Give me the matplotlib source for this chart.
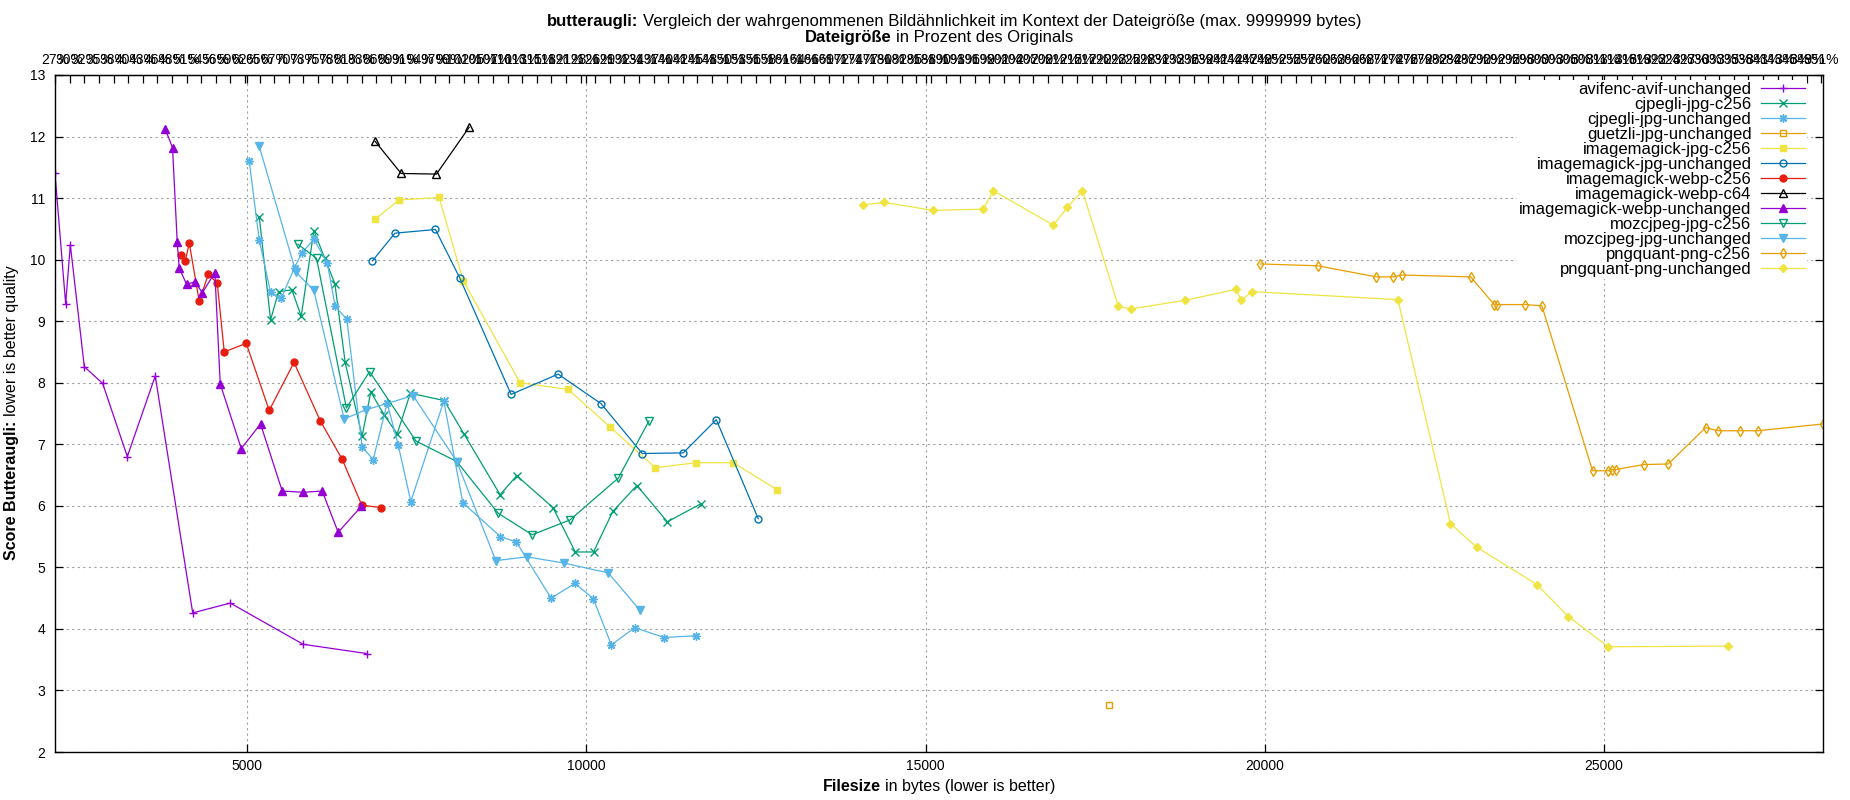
#!/usr/bin/env python3
"""
butteraugli score vs. file size for several encoders (gnuplot look-alike)
"""

import matplotlib
matplotlib.use("Agg")
import matplotlib.pyplot as plt

plt.rcParams['font.family'] = ['Liberation Sans', 'DejaVu Sans']
plt.rcParams['font.size'] = 10

# --- data (filesize in bytes, butteraugli score) ---
avif_x = [2166, 2323, 2392, 2598, 2868, 3232, 3644, 4196, 4750, 5825, 6759]
avif_y = [11.40, 9.28, 10.24, 8.26, 7.99, 6.80, 8.11, 4.26, 4.42, 3.75, 3.60]

cjpegli_c256_x = [5177, 5344, 5462, 5658, 5796, 5982, 6144, 6292, 6444, 6693, 6822, 7022,
                  7210, 7405, 7903, 8200, 8728, 8973, 9509, 9836, 10105, 10390, 10745,
                  11194, 11683]
cjpegli_c256_y = [10.70, 9.02, 9.48, 9.51, 9.08, 10.47, 10.02, 9.61, 8.33, 7.13, 7.85, 7.47,
                  7.17, 7.83, 7.71, 7.16, 6.18, 6.49, 5.97, 5.25, 5.25, 5.91, 6.33,
                  5.74, 6.03]

cjpegli_unch_x = [5029, 5177, 5344, 5501, 5697, 5806, 5982, 6179, 6297, 6469, 6693, 6857,
                  7063, 7225, 7412, 7898, 8178, 8733, 8969, 9479, 9833, 10103, 10368,
                  10712, 11149, 11621]
cjpegli_unch_y = [11.60, 10.32, 9.47, 9.37, 9.87, 10.11, 10.33, 9.95, 9.24, 9.03, 6.96, 6.75,
                  7.67, 6.99, 6.07, 7.70, 6.05, 5.50, 5.41, 4.50, 4.74, 4.49, 3.74,
                  4.02, 3.86, 3.89]

guetzli_x = [17703]
guetzli_y = [2.76]

im_jpg_c256_x = [6887, 7240, 7829, 8183, 9023, 9733, 10350, 11015, 11618, 12166, 12814]
im_jpg_c256_y = [10.66, 10.97, 11.01, 9.66, 8.00, 7.89, 7.28, 6.62, 6.70, 6.70, 6.26]

im_jpg_unch_x = [6845, 7178, 7775, 8134, 8890, 9583, 10216, 10824, 11428, 11915, 12534]
im_jpg_unch_y = [9.98, 10.43, 10.49, 9.70, 7.81, 8.14, 7.66, 6.85, 6.86, 7.40, 5.79]

im_webp_c256_x = [4018, 4086, 4145, 4293, 4425, 4558, 4661, 4985, 5324, 5690, 6077, 6398,
                  6690, 6979]
im_webp_c256_y = [10.07, 9.97, 10.27, 9.32, 9.76, 9.62, 8.50, 8.64, 7.55, 8.33, 7.38, 6.76,
                  6.01, 5.97]

im_webp_c64_x = [6887, 7269, 7790, 8271]
im_webp_c64_y = [11.92, 11.40, 11.39, 12.15]

im_webp_unch_x = [3791, 3899, 3968, 3998, 4106, 4234, 4337, 4523, 4602, 4912, 5196, 5516,
                  5825, 6105, 6341, 6682]
im_webp_unch_y = [12.12, 11.82, 10.28, 9.86, 9.60, 9.64, 9.46, 9.79, 7.98, 6.93, 7.33, 6.24,
                  6.22, 6.24, 5.57, 5.99]

moz_c256_x = [5747, 6022, 6462, 6803, 7490, 8089, 8699, 9200, 9757, 10470, 10923]
moz_c256_y = [10.25, 10.02, 7.59, 8.18, 7.05, 6.72, 5.88, 5.53, 5.77, 6.45, 7.38]

moz_unch_x = [5177, 5717, 5982, 6429, 6749, 7446, 8089, 8664, 9126, 9668, 10324, 10791]
moz_unch_y = [11.84, 9.80, 9.50, 7.41, 7.56, 7.79, 6.72, 5.11, 5.17, 5.07, 4.91, 4.30]

png_c256_x = [19935, 20783, 21645, 21898, 22022, 23036, 23384, 23420, 23840, 24087, 24833,
              25065, 25123, 25174, 25587, 25949, 26500, 26688, 27007, 27275, 28231]
png_c256_y = [9.93, 9.90, 9.72, 9.72, 9.75, 9.72, 9.27, 9.27, 9.27, 9.25, 6.57,
              6.57, 6.59, 6.59, 6.67, 6.68, 7.27, 7.22, 7.22, 7.22, 7.33]

png_unch_x = [14075, 14390, 15113, 15851, 15999, 16885, 17091, 17313, 17843, 18030, 18830,
              19583, 19650, 19818, 21964, 22739, 23123, 24014, 24478, 25065, 26826]
png_unch_y = [10.89, 10.93, 10.80, 10.82, 11.12, 10.56, 10.85, 11.12, 9.24, 9.20, 9.34,
              9.52, 9.34, 9.48, 9.35, 5.71, 5.33, 4.72, 4.20, 3.71, 3.72]

# size of the original image used for the percentage axis on top
original_size = 8030
pct_start = 27
pct_step = 2.68
pct_count = 122

# gnuplot default colours / point types
series = [
    ("avifenc-avif-unchanged", avif_x, avif_y, '#9400d3', '+', True),
    ("cjpegli-jpg-c256", cjpegli_c256_x, cjpegli_c256_y, '#009e73', 'x', True),
    ("cjpegli-jpg-unchanged", cjpegli_unch_x, cjpegli_unch_y, '#56b4e9', (8, 2, 0), True),
    ("guetzli-jpg-unchanged", guetzli_x, guetzli_y, '#e69f00', 's', False),
    ("imagemagick-jpg-c256", im_jpg_c256_x, im_jpg_c256_y, '#f0e442', 's', True),
    ("imagemagick-jpg-unchanged", im_jpg_unch_x, im_jpg_unch_y, '#0072b2', 'o', False),
    ("imagemagick-webp-c256", im_webp_c256_x, im_webp_c256_y, '#e51e10', 'o', True),
    ("imagemagick-webp-c64", im_webp_c64_x, im_webp_c64_y, 'black', '^', False),
    ("imagemagick-webp-unchanged", im_webp_unch_x, im_webp_unch_y, '#9400d3', '^', True),
    ("mozcjpeg-jpg-c256", moz_c256_x, moz_c256_y, '#009e73', 'v', False),
    ("mozcjpeg-jpg-unchanged", moz_unch_x, moz_unch_y, '#56b4e9', 'v', True),
    ("pngquant-png-c256", png_c256_x, png_c256_y, '#e69f00', 'd', False),
    ("pngquant-png-unchanged", png_unch_x, png_unch_y, '#f0e442', 'D', True),
]

W, H = 1850, 800


def rich_text(fig, cx, cy, parts, size, rotation=0):
    """Draw bold/regular pieces one after another, centred on (cx, cy) in pixels
    from the top-left corner; cy is the baseline (or baseline x for rotated text)."""
    renderer = fig.canvas.get_renderer()
    gap = 0.278 * size * 100 / 72
    texts = []
    for s, w in parts:
        t = fig.text(0, 0, s, fontsize=size, fontweight=w, rotation=rotation,
                     rotation_mode='anchor', ha='left', va='baseline')
        texts.append(t)
    boxes = [t.get_window_extent(renderer) for t in texts]
    if rotation == 0:
        total = sum(b.width for b in boxes) + gap * (len(parts) - 1)
        cur = cx - total / 2
        for t, b in zip(texts, boxes):
            t.set_position((cur / W, 1 - cy / H))
            cur += b.width + gap
    else:
        total = sum(b.height for b in boxes) + gap * (len(parts) - 1)
        cur = (H - cy) - total / 2
        for t, b in zip(texts, boxes):
            t.set_position((cx / W, cur / H))
            cur += b.height + gap


fig = plt.figure(figsize=(18.5, 8), dpi=100)
ax = fig.add_axes([55 / W, 1 - 752 / H, 1768 / W, 677 / H])

for name, xs, ys, color, marker, filled in series:
    size = 6
    if marker in ('o', 's', 'd'):
        size = 5
    if marker == 'D':
        size = 4.5
    ax.plot(xs, ys, color=color, linewidth=0.9, marker=marker, markersize=size,
            markerfacecolor=color if filled else 'none', markeredgecolor=color,
            markeredgewidth=1.0, label=name)

all_x = [v for s in series for v in s[1]]
ax.set_xlim(min(all_x), max(all_x))
ax.set_ylim(2, 13)
ax.set_xticks([5000, 10000, 15000, 20000, 25000])
ax.set_yticks(range(2, 14))

ax.grid(True, linestyle=(0, (2, 3)), color='#a0a0a0', linewidth=0.8)
ax.set_axisbelow(True)
ax.tick_params(direction='in', length=6, width=0.9, top=True, right=True,
               labelsize=10, colors='black')
ax.tick_params(axis='y', pad=7)
ax.tick_params(axis='x', pad=5)
for sp in ax.spines.values():
    sp.set_linewidth(1.0)

# percent-of-original axis on top
sec = ax.secondary_xaxis('top', functions=(lambda x: x / original_size * 100,
                                           lambda p: p * original_size / 100))
pct_ticks = [pct_start + pct_step * k for k in range(pct_count)]
sec.set_xticks(pct_ticks)
sec.set_xticklabels([f"{round(p)}%" for p in pct_ticks])
sec.tick_params(direction='in', length=6, width=0.9, labelsize=10, pad=6)

# titles and axis labels (bold lead word + regular rest, like gnuplot enhanced text)
rich_text(fig, 954, 26, [("butteraugli:", 'bold'),
                         ("Vergleich der wahrgenommenen Bildähnlichkeit im Kontext der "
                          "Dateigröße (max. 9999999 bytes)", 'normal')], 12)
rich_text(fig, 939, 42, [("Dateigröße", 'bold'), ("in Prozent des Originals", 'normal')], 12)
rich_text(fig, 939, 791, [("Filesize", 'bold'), ("in bytes (lower is better)", 'normal')], 11.5)
rich_text(fig, 16, 413, [("Score Butteraugli:", 'bold'),
                         ("lower is better quality", 'normal')], 11.5, rotation=90)

leg = ax.legend(loc='upper right', bbox_to_anchor=(0.991, 0.992), markerfirst=False,
                frameon=True, fancybox=False, edgecolor='none', facecolor='white',
                framealpha=1.0, borderpad=0.1, borderaxespad=0, labelspacing=0.0,
                handlelength=2.64, handletextpad=0.6, numpoints=1, fontsize=12)
for col in leg._legend_handle_box.get_children():
    col.align = 'right'

plt.savefig('out.png', dpi=100)
